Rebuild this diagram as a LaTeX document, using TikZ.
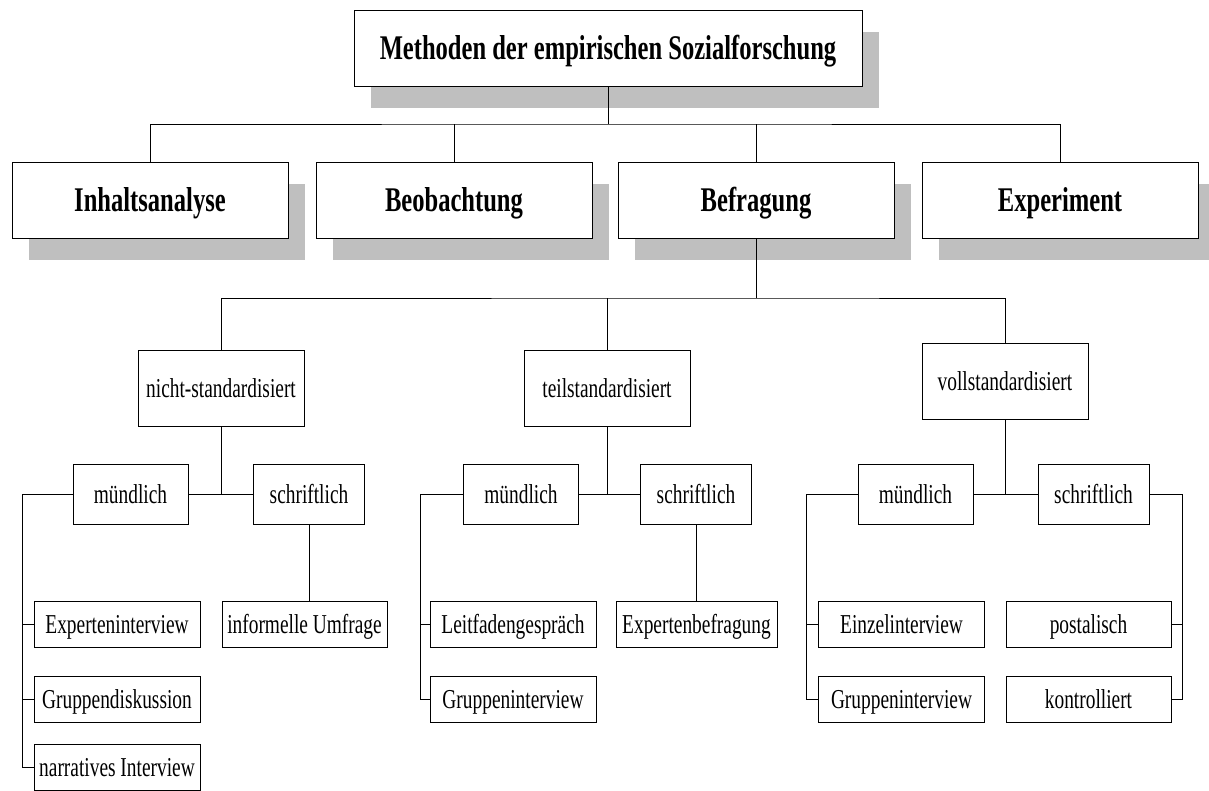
\documentclass[tikz,border=0pt]{standalone}
\usepackage{fontspec}
\setmainfont{Liberation Serif}[FakeStretch=0.71]
\usetikzlibrary{shadows}
\definecolor{shadowgray}{RGB}{191,191,191}
\begin{document}
\begin{tikzpicture}[x=1pt, y=-1pt, line width=1pt,
  box/.style={draw, fill=white, inner sep=0pt, align=center, text height=18pt, text depth=0pt},
  head/.style={box, minimum height=76pt, text height=22.8pt, font=\fontsize{34.6}{40}\selectfont\bfseries,
    drop shadow={shadow xshift=17pt, shadow yshift=-22pt, fill=shadowgray, opacity=1}},
  kind/.style={box, minimum width=166pt, minimum height=76pt, font=\fontsize{27.3}{32}\selectfont},
  mode/.style={box, minimum height=60pt, font=\fontsize{27.3}{32}\selectfont},
  leaf/.style={box, minimum width=166pt, minimum height=46pt, font=\fontsize{27.3}{32}\selectfont}]
\useasboundingbox (0,0) rectangle (1209,790);
\pgfmathsetmacro\busA{124}
\pgfmathsetmacro\busB{298}
\pgfmathsetmacro\rowA{624}
\pgfmathsetmacro\rowB{699.5}
\pgfmathsetmacro\rowC{767}
% top levels
\node[head, minimum width=508pt] (title) at (608,48) {Methoden der empirischen Sozialforschung};
\node[head, minimum width=276pt] (inhalt) at (150,200) {Inhaltsanalyse};
\node[head, minimum width=276pt] (beob) at (454,200) {Beobachtung};
\node[head, minimum width=276pt] (befr) at (756,200) {Befragung};
\node[head, minimum width=276pt] (exper) at (1060,200) {Experiment};
\node[kind] (nicht) at (221,388) {nicht-standardisiert};
\node[kind] (teil) at (607,388) {teilstandardisiert};
\node[kind] (voll) at (1005,381) {vollstandardisiert};
% mündlich / schriftlich
\node[mode, minimum width=115pt] (mA) at (130.5,494) {mündlich};
\node[mode, minimum width=111pt] (sA) at (309,494) {schriftlich};
\node[mode, minimum width=115pt] (mB) at (521,494) {mündlich};
\node[mode, minimum width=111pt] (sB) at (696,494) {schriftlich};
\node[mode, minimum width=115pt] (mC) at (915.5,494) {mündlich};
\node[mode, minimum width=111pt] (sC) at (1093.5,494) {schriftlich};
% leaves
\node[leaf] (expint) at (117,\rowA) {Experteninterview};
\node[leaf] (grdisk) at (117,\rowB) {Gruppendiskussion};
\node[leaf] (narr) at (117,\rowC) {narratives Interview};
\node[leaf, minimum width=165pt] (inform) at (304.5,\rowA) {informelle Umfrage};
\node[leaf] (leitf) at (513,\rowA) {Leitfadengespräch};
\node[leaf] (grintB) at (513,\rowB) {Gruppeninterview};
\node[leaf, minimum width=161pt] (expbef) at (696.5,\rowA) {Expertenbefragung};
\node[leaf] (einzel) at (901.5,\rowA) {Einzelinterview};
\node[leaf] (grintC) at (901.5,\rowB) {Gruppeninterview};
\node[leaf, minimum width=165pt] (post) at (1088.5,\rowA) {postalisch};
\node[leaf, minimum width=165pt] (kontr) at (1088.5,\rowB) {kontrolliert};
% connectors
\coordinate (bA) at (608,\busA);
\coordinate (bB) at (756,\busB);
\coordinate (spA) at (22,494);
\coordinate (spB) at (420,494);
\coordinate (spC) at (806,494);
\coordinate (spD) at (1182,494);
\draw (title.south) -- (bA);
\draw (inhalt.north) |- (bA) -| (exper.north);
\draw (beob.north) -- (beob.north |- bA);
\draw (befr.north) -- (befr.north |- bA);
\draw (befr.south) -- (bB);
\draw (nicht.north) |- (bB) -| (voll.north);
\draw (teil.north) -- (teil.north |- bB);
\draw (mA.east) -- (sA.west);
\draw (mB.east) -- (sB.west);
\draw (mC.east) -- (sC.west);
\draw (nicht.south) -- (nicht.south |- mA.east);
\draw (teil.south) -- (teil.south |- mB.east);
\draw (voll.south) -- (voll.south |- mC.east);
\draw (mA.west) -- (spA) |- (narr.west);
\draw (expint.west) -- (expint.west -| spA);
\draw (grdisk.west) -- (grdisk.west -| spA);
\draw (sA.south) -- (sA.south |- inform.north);
\draw (mB.west) -- (spB) |- (grintB.west);
\draw (leitf.west) -- (leitf.west -| spB);
\draw (sB.south) -- (sB.south |- expbef.north);
\draw (mC.west) -- (spC) |- (grintC.west);
\draw (einzel.west) -- (einzel.west -| spC);
\draw (sC.east) -- (spD) |- (kontr.east);
\draw (post.east) -- (post.east -| spD);
\end{tikzpicture}
\end{document}
